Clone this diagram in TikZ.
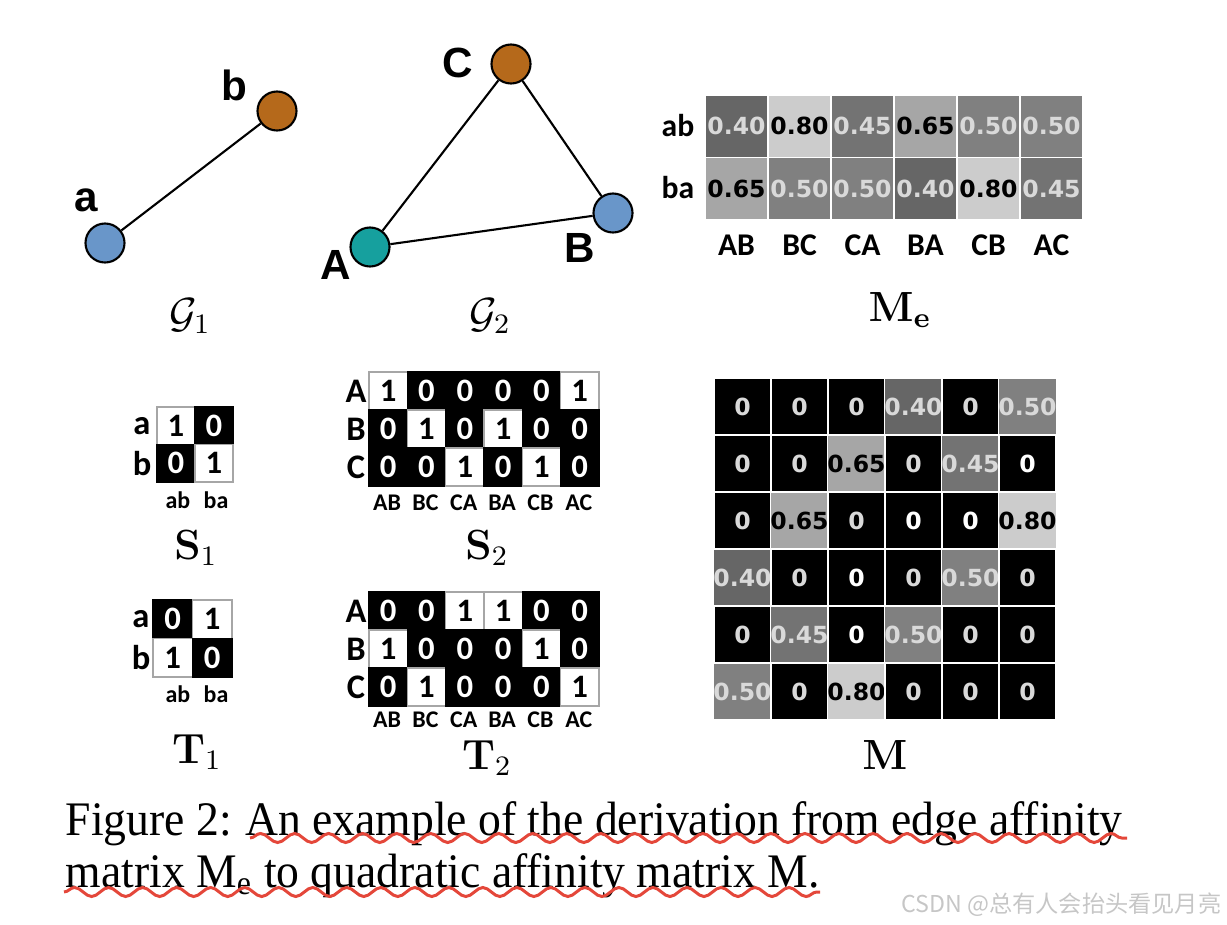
\documentclass[tikz,border=0pt]{standalone}
\usepackage[no-math]{fontspec}
\usepackage{amsmath}
\usepackage{graphicx}
\setmainfont{Liberation Serif}
\newfontfamily\calib{Carlito}
\newfontfamily\dejab{DejaVu Sans}
\newfontfamily\arialb{Liberation Sans}
\newfontfamily\cjk{Noto Sans CJK SC}
\usepackage{tikz}
\usetikzlibrary{positioning, decorations.pathmorphing}

\definecolor{nodeblue}{HTML}{6996C9}
\definecolor{nodebrown}{HTML}{B5691B}
\definecolor{nodeteal}{HTML}{16A09E}
\definecolor{ltgray}{HTML}{D9D9D9}
\definecolor{wavered}{HTML}{E4473A}

\tikzset{
  vtx/.style={circle, draw=black, line width=0.6pt, minimum size=0.39cm, inner sep=0},
  vlab/.style={font=\arialb\bfseries\fontsize{12}{12}\selectfont},
  edge/.style={line width=0.6pt},
  mlab/.style={font=\fontsize{12}{12}\selectfont},
  % weighted cells
  wcell/.style={draw=white, line width=0.4pt, inner sep=0, font=\dejab\bfseries\fontsize{6.7}{6.7}\selectfont},
  v0/.style={fill=black, text=ltgray, node contents={0}},
  vw/.style={fill=black, text=white, node contents={0}},
  v40/.style={fill=white!40!black, text=ltgray, node contents={0.40}},
  v45/.style={fill=white!45!black, text=ltgray, node contents={0.45}},
  v50/.style={fill=white!50!black, text=ltgray, node contents={0.50}},
  v65/.style={fill=white!65!black, text=black, node contents={0.65}},
  v80/.style={fill=white!80!black, text=black, node contents={0.80}},
  % binary cells
  bcell/.style={line width=0.4pt, inner sep=0, font=\calib\bfseries\fontsize{9.3}{9.3}\selectfont},
  b0/.style={fill=black, draw=black, text=white, node contents={0}},
  b1/.style={fill=white, draw=gray!70, text=black, node contents={1}},
  rlab/.style={font=\calib\bfseries\fontsize{9.8}{9.8}\selectfont},
  clab/.style={font=\calib\bfseries\fontsize{6.8}{6.8}\selectfont},
  elab/.style={font=\calib\bfseries\fontsize{9}{9}\selectfont},
  capt/.style={anchor=base west, inner sep=0, font=\fontsize{13.7}{13.7}\selectfont},
  wavy/.style={draw=wavered, line width=0.85pt, decorate,
    decoration={snake, segment length=0.34cm, amplitude=0.045cm}}
}

\begin{document}
\begin{tikzpicture}[x=0.01cm, y=-0.01cm]
\useasboundingbox (0,0) rectangle (1227,924);

% Graph G1
\node (a) [vtx, fill=nodeblue] at (105,243) {};
\node (b) [vtx, fill=nodebrown] at (277,111) {};
\node (la) [vlab] at (86,200) {a};
\node (lb) [vlab] at (234,85) {b};
\draw [edge] (a) -- (b);
\node (g1) [mlab] at (190,316) {$\mathcal{G}_1$};

% Graph G2
\node (C) [vtx, fill=nodebrown] at (511,64) {};
\node (A) [vtx, fill=nodeteal] at (370,247) {};
\node (B) [vtx, fill=nodeblue] at (613,213) {};
\node (lC) [vlab] at (458,63) {C};
\node (lA) [vlab] at (336,265) {A};
\node (lB) [vlab] at (580,248) {B};
\draw [edge] (C) -- (A);
\draw [edge] (C) -- (B);
\draw [edge] (A) -- (B);
\node (g2) [mlab] at (490,316) {$\mathcal{G}_2$};

% Edge affinity matrix Me
\foreach \row [count=\r] in {{40,80,45,65,50,50},{65,50,50,40,80,45}}
  \foreach \v [count=\c] in \row
    \node (me\r\c) at ({673.5+63*\c},{63.75+62.5*\r}) [wcell, minimum width=0.63cm, minimum height=0.625cm, v\v];
\node (meab) [elab] at (678,126) {ab};
\node (meba) [elab] at (678,188) {ba};
\foreach \l [count=\c] in {AB,BC,CA,BA,CB,AC}
  \node (mec\c) [elab] at ({673.5+63*\c},245) {\l};
\node (me) [mlab] at (900,310) {$\mathbf{M}_\mathbf{e}$};

% S1 and T1
\foreach \row [count=\r] in {{1,0},{0,1}}
  \foreach \v [count=\c] in \row
    \node (s1\r\c) at ({138+38*\c},{388.25+37.5*\r}) [bcell, minimum width=0.38cm, minimum height=0.375cm, b\v];
\foreach \row [count=\r] in {{0,1},{1,0}}
  \foreach \v [count=\c] in \row
    \node (t1\r\c) at ({133.25+39.5*\c},{580.75+38.5*\r}) [bcell, minimum width=0.395cm, minimum height=0.385cm, b\v];
\foreach \l [count=\r] in {a,b} {
  \node (s1r\r) [rlab] at (142,{388.25+37.5*\r}) {\l};
  \node (t1r\r) [rlab] at (141,{580.75+38.5*\r}) {\l};
}
\foreach \l [count=\c] in {ab,ba} {
  \node (s1c\c) [clab] at ({140+38*\c},500) {\l};
  \node (t1c\c) [clab] at ({140+38*\c},694) {\l};
}
\node (s1) [mlab] at (196,548) {$\mathbf{S}_1$};
\node (t1) [mlab] at (197,752) {$\mathbf{T}_1$};

% S2 and T2
\foreach \row [count=\r] in {{1,0,0,0,0,1},{0,1,0,1,0,0},{0,0,1,0,1,0}}
  \foreach \v [count=\c] in \row
    \node (s2\r\c) at ({349.8+38.33*\c},{353+38*\r}) [bcell, minimum width=0.383cm, minimum height=0.38cm, b\v];
\foreach \row [count=\r] in {{0,0,1,1,0,0},{1,0,0,0,1,0},{0,1,0,0,0,1}}
  \foreach \v [count=\c] in \row
    \node (t2\r\c) at ({349.8+38.33*\c},{573+38*\r}) [bcell, minimum width=0.383cm, minimum height=0.38cm, b\v];
\foreach \l [count=\r] in {A,B,C} {
  \node (s2r\r) [rlab] at (356,{353+38*\r}) {\l};
  \node (t2r\r) [rlab] at (356,{573+38*\r}) {\l};
}
\foreach \l [count=\c] in {AB,BC,CA,BA,CB,AC} {
  \node (s2c\c) [clab] at ({348.8+38.33*\c},503) {\l};
  \node (t2c\c) [clab] at ({348.8+38.33*\c},720) {\l};
}
\node (s2) [mlab] at (487,548) {$\mathbf{S}_2$};
\node (t2) [mlab] at (487,758) {$\mathbf{T}_2$};

% Quadratic affinity matrix M
\foreach \row [count=\r] in {{0,0,0,40,0,50},{0,0,65,0,45,w},{0,65,0,w,w,80},{40,0,w,0,50,0},{0,45,w,50,0,0},{50,0,80,0,0,0}}
  \foreach \v [count=\c] in \row
    \node (m\r\c) at ({685.5+57*\c},{349.5+57*\r}) [wcell, minimum size=0.57cm, v\v];
\node (mq) [mlab] at (885,755) {$\mathbf{M}$};

% Caption
\node (cap1) [capt] at (65,835)
  {\scalebox{0.947}[1]{Figure 2:\hspace{0.3em}An example of the derivation from edge affinity}};
\node (cap2) [capt] at (65,887)
  {\scalebox{0.947}[1]{matrix M\textsubscript{e} to quadratic affinity matrix M.}};
\coordinate (w1s) at (250,838);
\coordinate (w1e) at (1127,838);
\coordinate (w2s) at (64,892);
\coordinate (w2e) at (820,892);
\draw [wavy] (w1s) -- (w1e);
\draw [wavy] (w2s) -- (w2e);

\node (mark) [anchor=east, inner sep=0, text=gray!45, font=\cjk\fontsize{6.6}{6.6}\selectfont] at (1222,905)
  {CSDN @总有人会抬头看见月亮};
\end{tikzpicture}
\end{document}
